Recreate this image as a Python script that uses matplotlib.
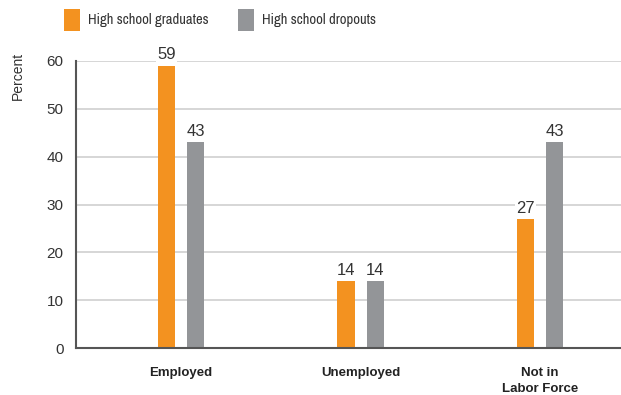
import matplotlib
matplotlib.use("Agg")
import matplotlib.pyplot as plt
from matplotlib.patches import Rectangle
import numpy as np

categories = ["Employed", "Unemployed", "Not in\nLabor Force"]
series_names = ["High school graduates", "High school dropouts"]
graduates = [59, 14, 27]
dropouts = [43, 14, 43]
yticks = [0, 10, 20, 30, 40, 50, 60]

orange = "#F39220"
gray = "#939598"
txt = "#333333"
plt.rcParams['font.family'] = ["Liberation Sans", "DejaVu Sans"]
narrow = ["Archivo Narrow", "Liberation Sans"]

W, H = 621, 395
fig = plt.figure(figsize=(W / 100, H / 100), dpi=100)
ax = fig.add_axes([76 / W, 1 - 348 / H, (W - 76) / W, (348 - 61) / H])

x = np.arange(len(categories))
bw = 0.095
off = 0.081
ax.bar(x - off, graduates, bw, color=orange, zorder=3)
ax.bar(x + off, dropouts, bw, color=gray, zorder=3)

for xs, vals in [(x - off, graduates), (x + off, dropouts)]:
    for xi, v in zip(xs, vals):
        ax.text(xi, v + 0.7, str(v), ha="center", va="bottom", fontsize=12, color=txt,
                bbox=dict(facecolor="white", edgecolor="none", pad=1), zorder=4)

ax.set_xlim(-0.585, 2.451)
ax.set_ylim(0, 60)
ax.set_yticks(yticks)
ax.set_yticklabels([str(t) for t in yticks], fontsize=11, color=txt)
ax.set_xticks(x)
ax.set_xticklabels(categories, fontsize=9.5, fontweight="bold", color="#222222", linespacing=1.35)
ax.tick_params(axis="both", length=0)
ax.tick_params(axis="y", pad=9)
ax.tick_params(axis="x", pad=14)
ax.yaxis.grid(True, color="#d0d0d0", linewidth=1.2, zorder=0)
ax.set_axisbelow(True)
for s in ["top", "right"]:
    ax.spines[s].set_visible(False)
for s in ["left", "bottom"]:
    ax.spines[s].set_color("#555555")
    ax.spines[s].set_linewidth(1.5)
    ax.spines[s].set_zorder(5)

fig.text(18 / W, 1 - 76 / H, "Percent", rotation=90, ha="center", va="center",
         fontsize=10, color=txt)

# legend
for px, name, c in [(64, series_names[0], orange), (238, series_names[1], gray)]:
    fig.patches.append(Rectangle((px / W, 1 - 31 / H), 16 / W, 22 / H,
                                 transform=fig.transFigure, facecolor=c, edgecolor="none"))
    fig.text((px + 24) / W, 1 - 20 / H, name, ha="left", va="center", fontsize=10.5,
             color=txt, family=narrow)

fig.savefig("out.png", dpi=100)
